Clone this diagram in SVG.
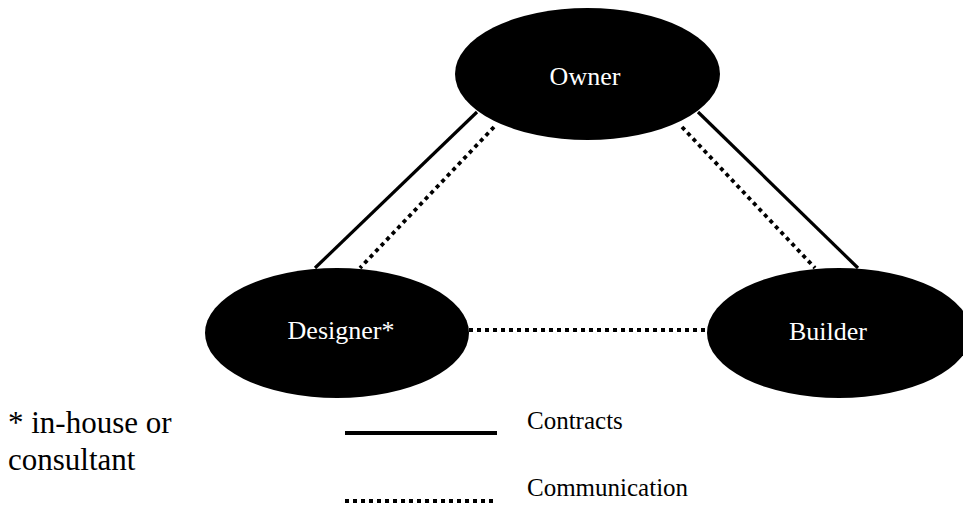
<svg xmlns="http://www.w3.org/2000/svg" width="963" height="509" viewBox="0 0 963 509">
<style>
.node{fill:#000}
.lbl{font-family:"Liberation Serif","Times New Roman",serif;font-size:26px;fill:#fff;text-anchor:middle}
.txt{font-family:"Liberation Serif","Times New Roman",serif;fill:#000}
.solid{stroke:#000;stroke-width:3.2;fill:none}
.dot{stroke:#000;stroke-width:3.8;stroke-dasharray:4 4;fill:none}
</style>
<rect width="963" height="509" fill="#fff"/>
<g id="connectors">
<line class="solid" x1="477" y1="112" x2="315" y2="268"/>
<line class="dot" x1="494" y1="127" x2="360" y2="268"/>
<line class="solid" x1="698" y1="112" x2="858" y2="268"/>
<line class="dot" x1="682" y1="127" x2="815" y2="268"/>
<line class="dot" x1="469" y1="330" x2="707" y2="330"/>
</g>
<g id="owner">
<ellipse class="node" cx="587.5" cy="74" rx="132.5" ry="66"/>
<text class="lbl" x="585" y="85">Owner</text>
</g>
<g id="designer">
<ellipse class="node" cx="337" cy="333" rx="132" ry="65"/>
<text class="lbl" x="341" y="339">Designer*</text>
</g>
<g id="builder">
<ellipse class="node" cx="839" cy="333" rx="132" ry="65"/>
<text class="lbl" x="828" y="340">Builder</text>
</g>
<g id="legend">
<line class="solid" x1="345" y1="433" x2="497" y2="433" style="stroke-width:4"/>
<line class="dot" x1="345" y1="501" x2="497" y2="501"/>
<text class="txt" x="527" y="429" font-size="25">Contracts</text>
<text class="txt" x="527" y="496" font-size="25">Communication</text>
</g>
<g id="footnote">
<text class="txt" x="8" y="433" font-size="31">* in-house or</text>
<text class="txt" x="8" y="470" font-size="31">consultant</text>
</g>
</svg>
